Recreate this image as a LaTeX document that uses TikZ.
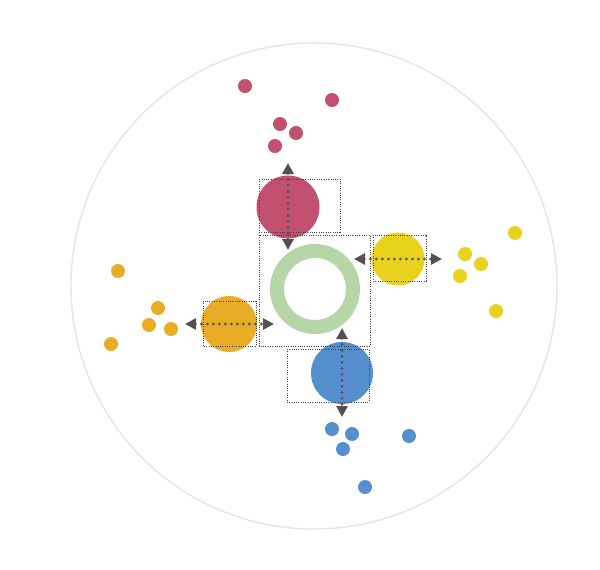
\documentclass[tikz,border=0pt]{standalone}
\usepackage{tikz}
\usetikzlibrary{arrows.meta}

\definecolor{berry}{RGB}{193,81,111}
\definecolor{lemon}{RGB}{232,210,30}
\definecolor{amber}{RGB}{232,172,38}
\definecolor{sky}{RGB}{86,143,206}
\definecolor{sage}{RGB}{183,214,168}
\definecolor{slate}{RGB}{85,80,80}

\tikzset{
  dot/.style={circle, inner sep=0pt, minimum size=7pt},
  blob/.style={circle, inner sep=0pt},
  frame/.style={draw=black!75, line width=0.5pt, dash pattern=on 0.5pt off 0.65pt},
  push/.style={draw=slate, line width=1.5pt, line cap=round, dash pattern=on 0pt off 3pt,
    {Triangle[length=5.5pt,width=5.5pt]}-{Triangle[length=5.5pt,width=5.5pt]}}
}

\begin{document}
\begin{tikzpicture}[x=0.5pt, y=-0.5pt]
            \useasboundingbox (0,0) rectangle (600,569);
            % outer rim
            \node[circle, draw=black!10, line width=0.7pt, inner sep=0pt, minimum size=243pt] (rim) at (314,286) {};

            % scattered points
            \foreach \x/\y [count=\i] in {245/86, 332/100, 280/124, 296/133, 275/146}
                \node[dot, fill=berry] (r\i) at (\x,\y) {};
            \foreach \x/\y [count=\i] in {515/233, 465/254, 481/264, 460/276, 496/311}
                \node[dot, fill=lemon] (y\i) at (\x,\y) {};
            \foreach \x/\y [count=\i] in {118/271, 158/308, 149/325, 171/329, 111/344}
                \node[dot, fill=amber] (o\i) at (\x,\y) {};
            \foreach \x/\y [count=\i] in {332/429, 352/434, 409/436, 343/449, 365/487}
                \node[dot, fill=sky] (b\i) at (\x,\y) {};

            % hub and the four groups
            \node[circle, draw=sage, line width=7pt, inner sep=0pt, minimum size=38pt] (hub) at (315,289) {};
            \node[blob, fill=berry, minimum size=31.5pt] (red) at (288,207) {};
            \node[blob, fill=lemon, minimum size=26.5pt] (yellow) at (398,259) {};
            \node[blob, fill=amber, minimum size=28pt] (orange) at (229,324) {};
            \node[blob, fill=sky, minimum size=31pt] (blue) at (342,373) {};

            % boxes
            \draw[frame] (259,235) rectangle (370,346);
            \draw[frame] (259,179) rectangle (340,232);
            \draw[frame] (373,235) rectangle (426,281);
            \draw[frame] (203,301) rectangle (256,346);
            \draw[frame] (287,349) rectangle (369,402);

            % arrows
            \coordinate (redN) at (288,163);
            \coordinate (redS) at (288,250);
            \coordinate (yellowW) at (354,259);
            \coordinate (yellowE) at (442,259);
            \coordinate (orangeW) at (185,324);
            \coordinate (orangeE) at (274,324);
            \coordinate (blueN) at (342,328);
            \coordinate (blueS) at (342,417);
            \draw[push] (redN) -- (redS);
            \draw[push] (yellowW) -- (yellowE);
            \draw[push] (orangeW) -- (orangeE);
            \draw[push] (blueN) -- (blueS);
        \end{tikzpicture}
\end{document}
